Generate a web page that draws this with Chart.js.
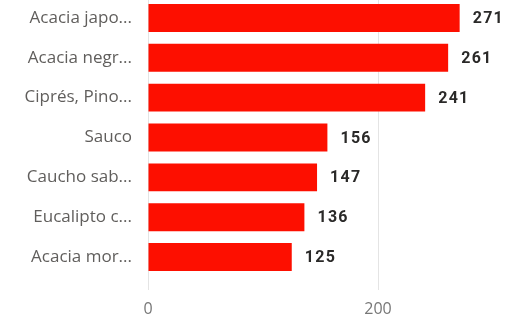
<!DOCTYPE html>
<html>
<head>
<meta charset="utf-8">
<script src="https://cdn.jsdelivr.net/npm/chart.js@4/dist/chart.umd.min.js"></script>
<style>
  html, body { margin: 0; padding: 0; background: #fff; overflow: hidden; }
  #wrap { position: relative; top: -2px; width: 505px; height: 323px; }
</style>
</head>
<body>
<div id="wrap"><canvas id="treeChart"></canvas></div>
<script>
// data block
const species = ['Acacia japo...', 'Acacia negr...', 'Ciprés, Pino...', 'Sauco', 'Caucho sab...', 'Eucalipto c...', 'Acacia mor...'];
const counts = [271, 261, 241, 156, 147, 136, 125];
const xTicks = [0, 200];

// value labels at the end of each bar
const valueLabels = {
    id: 'valueLabels',
    afterDatasetsDraw(chart) {
        const ctx = chart.ctx;
        const meta = chart.getDatasetMeta(0);
        ctx.save();
        ctx.font = 'bold 16px Roboto';
        ctx.letterSpacing = '1.3px';
        ctx.fillStyle = '#2a2928';
        ctx.textBaseline = 'middle';
        ctx.textAlign = 'left';
        meta.data.forEach((bar, i) => {
            ctx.fillText(String(counts[i]), bar.x + 13, bar.y + 1);
        });
        ctx.restore();
    }
};

const config = {
    type: 'bar',
    data: {
        labels: species,
        datasets: [{
            data: counts,
            backgroundColor: 'rgb(253,15,0)',
            borderWidth: 0,
            barPercentage: 0.7,
            categoryPercentage: 1.0
        }]
    },
    options: {
        indexAxis: 'y',
        animation: false,
        responsive: true,
        maintainAspectRatio: false,
        layout: { padding: { top: 0, right: 12, bottom: 0, left: 0 } },
        plugins: {
            legend: { display: false },
            tooltip: { enabled: false }
        },
        scales: {
            x: {
                min: 0,
                max: 300,
                afterBuildTicks: axis => { axis.ticks = xTicks.map(v => ({ value: v })); },
                afterFit: scale => { scale.height = 44; scale.paddingLeft = 0; scale.paddingRight = 0; },
                border: { display: false },
                grid: { color: '#e4e4e4', lineWidth: 1, drawTicks: true, tickLength: 13, tickColor: '#e4e4e4' },
                ticks: { color: '#777', font: { family: 'Open Sans', size: 16 }, padding: 10 }
            },
            y: {
                afterFit: scale => { scale.width = 148; scale.paddingTop = 0; scale.paddingBottom = 0; },
                border: { display: false },
                grid: { display: false, drawTicks: false },
                ticks: { color: '#605e5c', font: { family: 'Open Sans', size: 17 }, padding: 16 }
            }
        }
    },
    plugins: [valueLabels]
};

const treeChart = new Chart(document.getElementById('treeChart'), config);
</script>
</body>
</html>
